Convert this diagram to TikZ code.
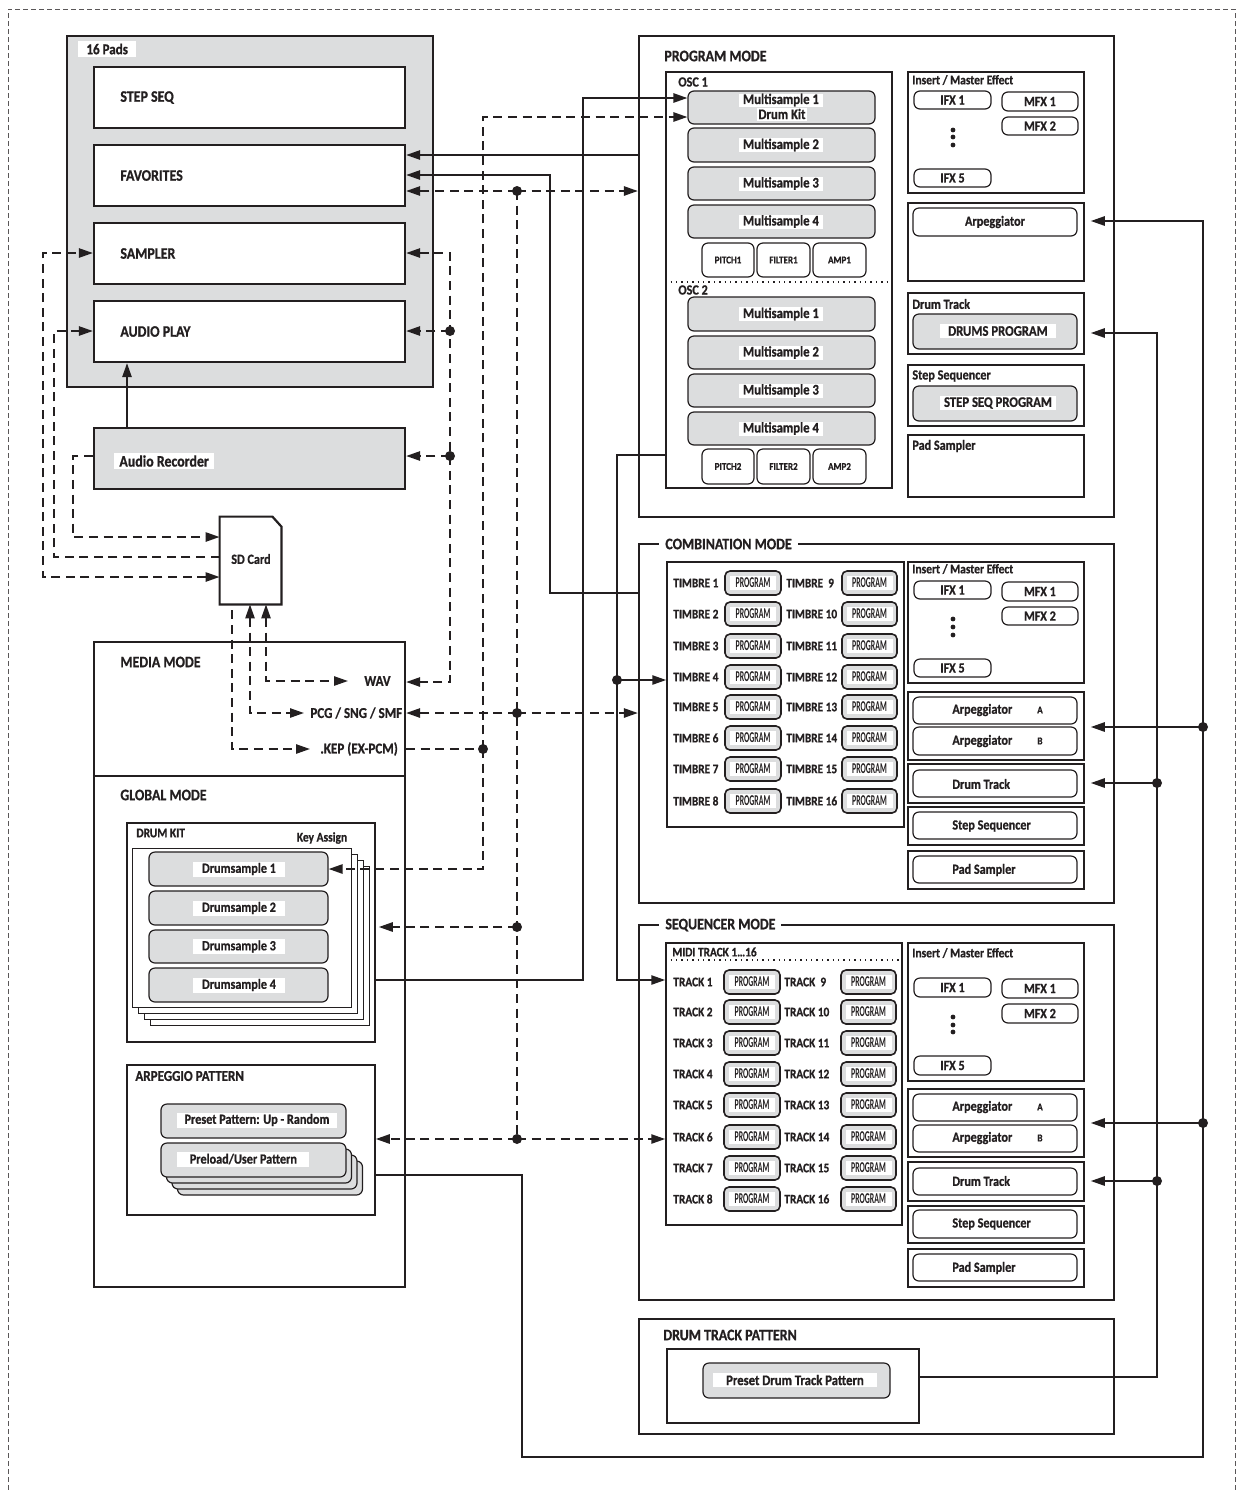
\documentclass[tikz,border=0pt]{standalone}
\usepackage{fontspec}
\setmainfont{Carlito}[FakeStretch=0.87, BoldFeatures={FakeBold=0.8}]
\newfontfamily\condfont{Carlito}[FakeStretch=0.52]
\usetikzlibrary{arrows.meta,fit,calc}
\definecolor{ink}{HTML}{231F20}
\definecolor{padgray}{HTML}{DCDDDE}
\newcommand\rbx[4]{\node[fC, fit={#2}] (#1) {}; \node[#3] (#1-t) at (#1.center) {#4};}
\begin{document}
\begin{tikzpicture}[x=0.5pt,y=-0.5pt,
  >={Triangle[length=7pt,width=4.6pt]},
  fA/.style={draw=ink, line width=1.1pt, inner sep=0pt},
  fB/.style={draw=ink, line width=0.75pt, inner sep=0pt},
  fC/.style={draw=ink, line width=0.6pt, inner sep=0pt, rounded corners=3pt},
  fT/.style={draw=ink, line width=0.5pt, inner sep=0pt},
  fP/.style={draw=ink, line width=0.8pt, fill=padgray, inner sep=0pt, rounded corners=2.5pt},
  gfill/.style={fill=padgray},
  txt/.style={text=ink, inner sep=0pt},
  tA/.style={txt, font=\bfseries\fontsize{8}{9}\selectfont},
  tW/.style={txt, font=\bfseries\fontsize{7.5}{9}\selectfont},
  tB/.style={txt, font=\bfseries\fontsize{7}{8}\selectfont},
  tM/.style={txt, font=\bfseries\fontsize{7.3}{8}\selectfont},
  tS/.style={txt, font=\bfseries\fontsize{6.6}{8}\selectfont},
  tT/.style={txt, font=\bfseries\fontsize{6.5}{8}\selectfont},
  tX/.style={txt, font=\bfseries\fontsize{5.2}{6}\selectfont},
  tQ/.style={txt, font=\condfont\bfseries\fontsize{7.5}{8}\selectfont, fill=white, minimum width=23pt, minimum height=7pt},
  wbg/.style={fill=white, inner xsep=2.5pt, inner ysep=1.2pt},
  sol/.style={draw=ink, line width=1pt},
  dsh/.style={draw=ink, line width=1pt, dash pattern=on 4.5pt off 2.8pt},
  dotn/.style={circle, fill=ink, inner sep=0pt, minimum size=5pt},
  outer/.style={draw=ink!75, line width=0.5pt, dash pattern=on 2.5pt off 1.5pt}
]
\useasboundingbox (0,0) rectangle (1237,1490);
\coordinate (obl) at (8,1490); \coordinate (otl) at (8,9);
\coordinate (otr) at (1235,9); \coordinate (obr) at (1235,1490);
\draw[outer] (obl) -- (otl) -- (otr) -- (obr);

% ===== 16 Pads
\node[fA, line width=1.2pt, gfill, fit={(67,36)(433,387)}] (pads) {};
\node[tW, wbg, inner xsep=4pt, anchor=west] (pads-t) at (78,49) {16 Pads};
\foreach \nm/\ya/\yb/\tx in {stepseq/67/128/STEP SEQ, fav/145/206/FAVORITES, samp/223/284/SAMPLER, aplay/301/362/AUDIO PLAY}{
  \node[fA, fill=white, fit={(94,\ya)(405,\yb)}] (\nm) {};
  \node[tA, anchor=west] (\nm-t) at (120,{(\ya+\yb)/2}) {\tx};
}
\node[fA, gfill, fit={(94,428)(405,489)}] (arec) {};
\node[tA, wbg, anchor=west] (arec-t) at (114,461) {Audio Recorder};

% ===== SD card
\node[inner sep=0pt, fit={(220,517)(281,604)}] (sd) {};
\draw[fA, fill=white] (sd.south west) -- (sd.north west) -- ([xshift=-4.5pt]sd.north east) -- ([yshift=-5pt]sd.north east) -- (sd.south east) -- cycle;
\node[tB] (sd-t) at (251,559) {SD Card};

% ===== Media / Global
\node[fA, fit={(94,642)(405,1287)}] (mg) {};
\draw[fA] (mg.west |- 0,776) -- (mg.east |- 0,776);
\node[tA, anchor=west] (media-t) at (120,662) {MEDIA MODE};
\node[tA, anchor=west] (global-t) at (120,795) {GLOBAL MODE};
\node[tW, anchor=west] (wav) at (364,681) {WAV};
\node[tW, anchor=west] (pcg) at (310,713) {PCG / SNG / SMF};
\node[tW, anchor=west] (kep) at (320,749) {.KEP (EX-PCM)};

% drum kit
\node[fB, fit={(127,823)(375,1042)}] (dk) {};
\node[tS, anchor=west] (dk-t) at (136,833) {DRUM KIT};
\node[tS] (ka-t) at (322,838) {Key Assign};
\foreach \k in {3,2,1}
  \node[fT, fill=white, fit={({132+6*\k},{848+6*\k})({351+6*\k},{1007+6*\k})}] (dkp\k) {};
\node[fT, fill=white, fit={(132,848)(351,1007)}] (dkp0) {};
\foreach \i/\ya/\yb in {1/852/886,2/891/925,3/930/963,4/968/1002}{
  \node[fC, gfill, fit={(149,\ya)(328,\yb)}] (ds\i) {};
  \node[tB, fill=white, minimum width=46pt, minimum height=7.5pt] (ds\i-t) at (239,{(\ya+\yb)/2}) {Drumsample \i};
}

% arpeggio pattern
\node[fB, fit={(127,1065)(375,1215)}] (ap) {};
\node[tW, anchor=west] (ap-t) at (135,1076) {ARPEGGIO PATTERN};
\node[fC, gfill, fit={(161,1104)(346,1138)}] (pp) {};
\node[tB, fill=white, minimum width=80pt, minimum height=7.5pt] (pp-t) at (257,1120) {Preset Pattern: Up - Random};
\foreach \k in {3,2,1}
  \node[fC, gfill, fit={({161+5.5*\k},{1143+6*\k})({346+5.5*\k},{1177+6*\k})}] (pl\k) {};
\node[fC, gfill, fit={(161,1143)(346,1177)}] (pl0) {};
\node[tB, fill=white, minimum width=66pt, minimum height=7.5pt, anchor=west] (pl-t) at (177,1159) {Preload/User Pattern};

% ===== PROGRAM MODE
\node[fA, fit={(639,36)(1114,517)}] (prog) {};
\node[tA, anchor=west] (prog-t) at (664,56) {PROGRAM MODE};
\node[fB, fit={(666,72)(892,488)}] (osc) {};
\node[tB, anchor=west] (osc1-t) at (678,82) {OSC 1};
\draw[ink, line width=0.7pt, dotted] (osc.west |- 0,282) -- (osc.east |- 0,282);
\node[tB, anchor=west] (osc2-t) at (678,290) {OSC 2};
\node[fC, gfill, fit={(688,91)(875,124)}] (ms1) {};
\node[tM, fill=white, minimum width=42pt, minimum height=6.5pt] (ms1-t) at (781,100) {Multisample 1};
\node[tM, fill=white, minimum width=25pt, minimum height=6.5pt] (ms1-u) at (782,114) {Drum Kit};
\foreach \i/\ya/\yb in {2/128/162,3/167/200,4/205/238}{
  \node[fC, gfill, fit={(688,\ya)(875,\yb)}] (ms\i) {};
  \node[tM, fill=white, minimum width=42pt, minimum height=7pt] (ms\i-t) at (781,{(\ya+\yb)/2}) {Multisample \i};
}
\foreach \i/\ya/\yb in {1/297/331,2/336/369,3/374/407,4/412/445}{
  \node[fC, gfill, fit={(688,\ya)(875,\yb)}] (mt\i) {};
  \node[tM, fill=white, minimum width=42pt, minimum height=7pt] (mt\i-t) at (781,{(\ya+\yb)/2}) {Multisample \i};
}
\foreach \nm/\xa/\xb/\tx in {pa/702/754/PITCH, pb/757/810/FILTER, pc/813/866/AMP}{
  \rbx{\nm1}{(\xa,243)(\xb,277)}{tX}{\tx 1}
  \rbx{\nm2}{(\xa,449)(\xb,484)}{tX}{\tx 2}
}
\node[fB, fit={(908,72)(1084,193)}] (pins) {};
\node[tS, anchor=west] (pins-t) at (912,80) {Insert / Master Effect};
\rbx{pifx1}{(914,91)(991,109)}{tB}{IFX 1}
\rbx{pmfx1}{(1002,92)(1078,111)}{tB}{MFX 1}
\rbx{pmfx2}{(1002,117)(1078,135)}{tB}{MFX 2}
\rbx{pifx5}{(914,169)(991,187)}{tB}{IFX 5}
\foreach \yy in {130,137,145} \fill[ink] (953,\yy) circle (1.2pt);
\node[fB, fit={(908,203)(1084,281)}] (parp) {};
\rbx{parpi}{(913,208)(1077,236)}{tB}{Arpeggiator}
\node[fB, fit={(908,293)(1084,354)}] (pdt) {};
\node[tB, anchor=west] (pdt-t) at (912,304) {Drum Track};
\node[fC, gfill, fit={(913,314)(1077,349)}] (pdti) {};
\node[tM, fill=white, minimum width=58pt, minimum height=7pt] (pdti-t) at (998,331) {DRUMS PROGRAM};
\node[fB, fit={(908,365)(1084,426)}] (pss) {};
\node[tB, anchor=west] (pss-t) at (912,376) {Step Sequencer};
\node[fC, gfill, fit={(913,386)(1077,421)}] (pssi) {};
\node[tM, fill=white, minimum width=58pt, minimum height=7pt] (pssi-t) at (998,403) {STEP SEQ PROGRAM};
\node[fB, fit={(908,435)(1084,497)}] (pps) {};
\node[tB, anchor=west] (pps-t) at (912,446) {Pad Sampler};

% ===== COMBINATION MODE
\node[fA, fit={(639,544)(1114,903)}] (comb) {};
\node[tA, fill=white, inner xsep=3pt, anchor=west] (comb-t) at (659,544) {COMBINATION MODE};
\node[fB, fit={(667,562)(904,827)}] (cin) {};
\foreach \i/\y in {1/583,2/614,3/646,4/677,5/707,6/738,7/769,8/801}{
  \pgfmathtruncatemacro\j{\i+8}
  \node[tT, anchor=west] (tl\i) at (673,\y) {TIMBRE \i};
  \node[fP, fit={(725,{\y-12})(781,{\y+12})}] (tp\i) {};
  \node[tQ] (tp\i-t) at (tp\i.center) {PROGRAM};
  \node[tT, anchor=west] (tl\j) at (786,\y) {\ifnum\j<10 TIMBRE\ \ \j\else TIMBRE \j\fi};
  \node[fP, fit={(842,{\y-12})(897,{\y+12})}] (tp\j) {};
  \node[tQ] (tp\j-t) at (tp\j.center) {PROGRAM};
}
\node[fB, fit={(908,562)(1084,683)}] (cins) {};
\node[tS, anchor=west] (cins-t) at (912,569) {Insert / Master Effect};
\rbx{cifx1}{(914,581)(991,599)}{tB}{IFX 1}
\rbx{cmfx1}{(1002,582)(1078,601)}{tB}{MFX 1}
\rbx{cmfx2}{(1002,607)(1078,625)}{tB}{MFX 2}
\rbx{cifx5}{(914,659)(991,677)}{tB}{IFX 5}
\foreach \yy in {619,627,635} \fill[ink] (953,\yy) circle (1.2pt);
\node[fB, fit={(908,692)(1084,760)}] (carp) {};
\node[fC, fit={(913,697)(1077,724)}] (carpA) {};
\node[tB, anchor=west] (carpA-t) at (952,710) {Arpeggiator};
\node[tX] (carpA-l) at (1040,710) {A};
\node[fC, fit={(913,727)(1077,755)}] (carpB) {};
\node[tB, anchor=west] (carpB-t) at (952,741) {Arpeggiator};
\node[tX] (carpB-l) at (1040,741) {B};
\node[fB, fit={(908,764)(1084,803)}] (cdt) {};
\node[fC, fit={(913,770)(1077,797)}] (cdti) {};
\node[tB, anchor=west] (cdti-t) at (952,784) {Drum Track};
\node[fB, fit={(908,807)(1084,845)}] (css) {};
\node[fC, fit={(913,812)(1077,839)}] (cssi) {};
\node[tB, anchor=west] (cssi-t) at (952,826) {Step Sequencer};
\node[fB, fit={(908,851)(1084,889)}] (cps) {};
\node[fC, fit={(913,856)(1077,883)}] (cpsi) {};
\node[tB, anchor=west] (cpsi-t) at (952,870) {Pad Sampler};

% ===== SEQUENCER MODE
\node[fA, fit={(639,925)(1114,1300)}] (seq) {};
\node[tA, fill=white, inner xsep=3pt, anchor=west] (seq-t) at (659,925) {SEQUENCER MODE};
\node[fB, fit={(666,943)(902,1225)}] (sin) {};
\node[tT, anchor=west] (midi-t) at (672,952) {MIDI TRACK 1\textellipsis16};
\draw[ink, line width=0.7pt, dotted] (sin.west |- 0,960) -- (sin.east |- 0,960);
\foreach \i/\y in {1/982,2/1012,3/1043,4/1074,5/1105,6/1137,7/1168,8/1199}{
  \pgfmathtruncatemacro\j{\i+8}
  \node[tT, anchor=west] (kl\i) at (673,\y) {TRACK \i};
  \node[fP, fit={(724,{\y-12})(780,{\y+12})}] (kp\i) {};
  \node[tQ] (kp\i-t) at (kp\i.center) {PROGRAM};
  \node[tT, anchor=west] (kl\j) at (784,\y) {\ifnum\j<10 TRACK\ \ \j\else TRACK \j\fi};
  \node[fP, fit={(841,{\y-12})(896,{\y+12})}] (kp\j) {};
  \node[tQ] (kp\j-t) at (kp\j.center) {PROGRAM};
}
\node[fB, fit={(908,943)(1084,1081)}] (sins) {};
\node[tS, anchor=west] (sins-t) at (912,953) {Insert / Master Effect};
\rbx{sifx1}{(914,978)(991,997)}{tB}{IFX 1}
\rbx{smfx1}{(1002,979)(1078,998)}{tB}{MFX 1}
\rbx{smfx2}{(1002,1004)(1078,1023)}{tB}{MFX 2}
\rbx{sifx5}{(914,1056)(991,1075)}{tB}{IFX 5}
\foreach \yy in {1017,1025,1032} \fill[ink] (953,\yy) circle (1.2pt);
\node[fB, fit={(908,1089)(1084,1157)}] (sarp) {};
\node[fC, fit={(913,1094)(1077,1121)}] (sarpA) {};
\node[tB, anchor=west] (sarpA-t) at (952,1107) {Arpeggiator};
\node[tX] (sarpA-l) at (1040,1107) {A};
\node[fC, fit={(913,1125)(1077,1152)}] (sarpB) {};
\node[tB, anchor=west] (sarpB-t) at (952,1138) {Arpeggiator};
\node[tX] (sarpB-l) at (1040,1138) {B};
\node[fB, fit={(908,1162)(1084,1201)}] (sdt) {};
\node[fC, fit={(913,1168)(1077,1195)}] (sdti) {};
\node[tB, anchor=west] (sdti-t) at (952,1181) {Drum Track};
\node[fB, fit={(908,1206)(1084,1243)}] (sss) {};
\node[fC, fit={(913,1210)(1077,1238)}] (sssi) {};
\node[tB, anchor=west] (sssi-t) at (952,1224) {Step Sequencer};
\node[fB, fit={(908,1249)(1084,1287)}] (sps) {};
\node[fC, fit={(913,1254)(1077,1281)}] (spsi) {};
\node[tB, anchor=west] (spsi-t) at (952,1268) {Pad Sampler};

% ===== DRUM TRACK PATTERN
\node[fA, fit={(639,1319)(1114,1434)}] (dtp) {};
\node[tA, anchor=west] (dtp-t) at (663,1335) {DRUM TRACK PATTERN};
\node[fB, fit={(667,1349)(919,1423)}] (dtpin) {};
\node[fC, gfill, fit={(703,1363)(890,1398)}] (pdtp) {};
\node[tM, fill=white, minimum width=82pt, minimum height=7pt] (pdtp-t) at (795,1380) {Preset Drum Track Pattern};

% ===== junction coordinates
\coordinate (j191) at (517,191);
\coordinate (j713) at (517,713);
\coordinate (j927) at (517,927);
\coordinate (j1139) at (517,1139);
\coordinate (j331) at (450,331);
\coordinate (j456) at (450,456);
\coordinate (j749) at (483,749);
\coordinate (j680) at (617,680);
\coordinate (j727) at (1203,727);
\coordinate (j1123) at (1203,1123);
\coordinate (j783) at (1157,783);
\coordinate (j1181) at (1157,1181);

% ===== connectors
\draw[sol,->] (prog.west |- 0,155) -- (fav.east |- 0,155);
\draw[sol,->] (comb.west |- 0,593) -- (550,593) -- (550,175) -- (fav.east |- 0,175);
\draw[dsh,->] (j191) -- (fav.east |- j191);
\draw[dsh,->] (j191) -- (prog.west |- j191);
\draw[dsh] (j191) -- (j1139);
\draw[dsh,->] (j713) -- (mg.east |- j713);
\draw[dsh,->] (j713) -- (comb.west |- j713);
\draw[dsh,->,shorten >=1.5pt] (j927) -- (dk.east |- j927);
\draw[dsh,->] (j1139) -- (ap.east |- j1139);
\draw[dsh,->] (j1139) -- (sin.west |- j1139);
\draw[dsh] (mg.east |- j749) -- (j749);
\draw[dsh,->] (j749) -- (483,117) -- (ms1.west |- 0,117);
\draw[dsh,->] (j749) -- (483,869) -- (ds1.east |- 0,869);
\draw[dsh,<->] (samp.east |- 0,253) -- (450,253) -- (450,682) -- (mg.east |- 0,682);
\draw[dsh,->] (j331) -- (aplay.east |- j331);
\draw[dsh,->] (j456) -- (arec.east |- j456);
\draw[dsh,<->] (sd.west |- 0,577) -- (43,577) -- (43,253) -- (samp.west |- 0,253);
\draw[dsh,->] (sd.west |- 0,557) -- (54,557) -- (54,331) -- (aplay.west |- 0,331);
\draw[dsh,->] (arec.west |- 0,456) -- (73,456) -- (73,537) -- (sd.west |- 0,537);
\draw[dsh,<->,shorten >=8pt] (sd.south -| 266,0) -- (266,681) -- (wav.west);
\draw[dsh,<->,shorten >=3pt] (sd.south -| 250,0) -- (250,713) -- (pcg.west);
\draw[dsh,->,shorten <=3pt,shorten >=5pt] (sd.south -| 232,0) -- (232,749) -- (kep.west);
\draw[sol,->] (arec.north -| 127,0) -- (aplay.south -| 127,0);
\draw[sol,->] (dk.east |- 0,980) -- (583,980) -- (583,98) -- (ms1.west |- 0,98);
\draw[sol] (osc.west |- 0,455) -- (617,455) -- (j680);
\draw[sol,->] (j680) -- (cin.west |- j680);
\draw[sol,->] (j680) -- (617,980) -- (sin.west |- 0,980);
\draw[sol,->,shorten >=3pt] (ap.east |- 0,1175) -- (522,1175) -- (522,1457) -- (1203,1457) -- (1203,221) -- (parp.east |- 0,221);
\draw[sol,->,shorten >=3pt] (j727) -- (carp.east |- j727);
\draw[sol,->,shorten >=3pt] (j1123) -- (sarp.east |- j1123);
\draw[sol,->,shorten >=3pt] (dtpin.east |- 0,1377) -- (1157,1377) -- (1157,333) -- (pdt.east |- 0,333);
\draw[sol,->,shorten >=3pt] (j783) -- (cdt.east |- j783);
\draw[sol,->,shorten >=3pt] (j1181) -- (sdt.east |- j1181);

% ===== junction dots
\foreach \c in {j191,j713,j927,j1139,j331,j456,j749,j680,j727,j1123,j783,j1181}
  \node[dotn] (dot-\c) at (\c) {};
\end{tikzpicture}
\end{document}
